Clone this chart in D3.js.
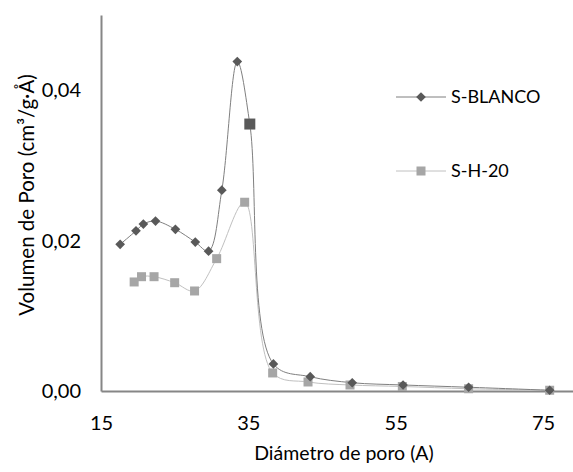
<!DOCTYPE html>
<html>
<head>
<meta charset="utf-8">
<style>
  body { margin: 0; background: #fff; }
  svg text { font-family: Lato, "Liberation Sans", sans-serif; fill: #000; }
</style>
<script src="https://d3js.org/d3.v7.min.js"></script>
</head>
<body>
<div id="chart"></div>
<script>
// pore diameter (A) and pore volume (cm3/g.A)
var blancoX = [17.6, 19.75, 20.75, 22.4, 25.1, 27.8, 29.6, 31.4, 33.5, 35.2, 38.4, 43.4, 49.1, 56.0, 64.9, 75.9];
var blancoY = [0.0195, 0.0213, 0.0222, 0.0226, 0.0215, 0.0198, 0.0186, 0.0267, 0.0438, 0.0355, 0.0036, 0.0019, 0.0011, 0.0008, 0.0005, 0.0001];
var blancoShape = ["d", "d", "d", "d", "d", "d", "d", "d", "d", "s", "d", "d", "d", "d", "d", "d"];

var h20X = [19.5, 20.5, 22.2, 25.0, 27.7, 30.7, 34.5, 38.3, 43.1, 48.8, 55.9, 64.9, 75.9];
var h20Y = [0.0145, 0.0152, 0.0152, 0.0144, 0.0133, 0.0176, 0.0251, 0.0024, 0.0012, 0.0008, 0.0006, 0.0003, 0.0001];

var xTicks = [15, 35, 55, 75];
var yTicks = [0, 0.02, 0.04];
var seriesNames = ["S-BLANCO", "S-H-20"];

var w = 573,
    h = 472;

var svg = d3.select("#chart")
        .append("svg")
        .attr("width", w)
        .attr("height", h);

var x = d3.scaleLinear().domain([15, 79]).range([101, 572.5]);
var y = d3.scaleLinear().domain([0, 0.05]).range([391, 15]);

var fmt = function(d) { return d3.format(".2f")(d).replace(".", ","); };

// axes (no tick marks, just the labels)
var yAxis = svg.append("g")
        .attr("transform", "translate(101,0)")
        .call(d3.axisLeft(y).tickValues(yTicks).tickFormat(fmt).tickSize(0).tickPadding(20));
yAxis.select(".domain").attr("stroke", "#868686").attr("stroke-width", 2);
yAxis.selectAll("text").attr("font-size", 20).attr("fill", "#000");

var xAxis = svg.append("g")
        .attr("transform", "translate(0,391)")
        .call(d3.axisBottom(x).tickValues(xTicks).tickFormat(d3.format("d")).tickSize(0).tickPadding(25));
xAxis.select(".domain").attr("stroke", "#868686").attr("stroke-width", 2);
xAxis.selectAll("text").attr("font-size", 20).attr("fill", "#000");

// axis titles
svg.append("text")
   .attr("x", 344)
   .attr("y", 460)
   .attr("text-anchor", "middle")
   .attr("font-size", 19.5)
   .text("Diámetro de poro (A)");

svg.append("text")
   .attr("transform", "translate(34,195) rotate(-90)")
   .attr("text-anchor", "middle")
   .attr("font-size", 20.5)
   .text("Volumen de Poro (cm³/g·Å)");

var line = d3.line()
        .x(function(d) { return x(d[0]); })
        .y(function(d) { return y(d[1]); })
        .curve(d3.curveCatmullRom.alpha(0.5));

var blanco = d3.zip(blancoX, blancoY);
var h20 = d3.zip(h20X, h20Y);

svg.append("path")
   .datum(h20)
   .attr("d", line)
   .attr("fill", "none")
   .attr("stroke", "#c0c0c0")
   .attr("stroke-width", 1);

svg.append("path")
   .datum(blanco)
   .attr("d", line)
   .attr("fill", "none")
   .attr("stroke", "#7f7f7f")
   .attr("stroke-width", 1);

var diamond = d3.symbol().type(d3.symbolDiamond2).size(60);

svg.selectAll(".h20")
   .data(h20)
   .enter().append("rect")
   .attr("x", function(d) { return x(d[0]) - 4.5; })
   .attr("y", function(d) { return y(d[1]) - 4.5; })
   .attr("width", 9)
   .attr("height", 9)
   .attr("fill", "#a6a6a6");

svg.selectAll(".blanco")
   .data(blanco)
   .enter().append("path")
   .attr("transform", function(d) { return "translate(" + x(d[0]) + "," + y(d[1]) + ")"; })
   .attr("d", function(d, i) {
      return blancoShape[i] === "s" ? "M-5.5,-5.5h11v11h-11z" : diamond();
   })
   .attr("fill", "#595959");

// legend
var legend = svg.append("g");
var legY = [97, 171];

legend.selectAll("line")
   .data(seriesNames)
   .enter().append("line")
   .attr("x1", 396).attr("x2", 446)
   .attr("y1", function(d, i) { return legY[i]; })
   .attr("y2", function(d, i) { return legY[i]; })
   .attr("stroke", function(d, i) { return i === 0 ? "#7f7f7f" : "#c0c0c0"; });

legend.append("path")
   .attr("transform", "translate(421," + legY[0] + ")")
   .attr("d", diamond())
   .attr("fill", "#595959");

legend.append("rect")
   .attr("x", 416.5).attr("y", legY[1] - 4.5)
   .attr("width", 9).attr("height", 9)
   .attr("fill", "#a6a6a6");

legend.selectAll("text")
   .data(seriesNames)
   .enter().append("text")
   .attr("x", 451)
   .attr("y", function(d, i) { return legY[i]; })
   .attr("dy", "0.35em")
   .attr("font-size", 18)
   .text(function(d) { return d; });
</script>
</body>
</html>
